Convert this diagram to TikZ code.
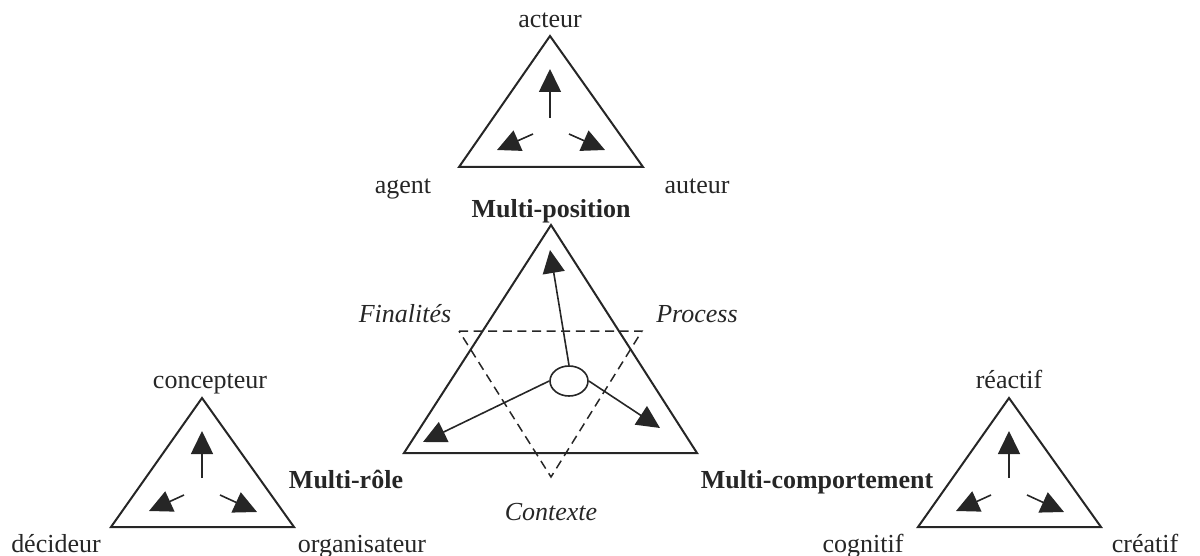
\documentclass[tikz,border=0pt]{standalone}
\usepackage{fontspec}
\setmainfont{Liberation Serif}
\usetikzlibrary{arrows.meta,shapes.geometric}
\definecolor{ink}{RGB}{38,38,38}
\begin{document}
\begin{tikzpicture}[x=0.5pt,y=-0.5pt,
  tri/.style={draw=ink, line width=1pt, line join=miter},
  dsh/.style={draw=ink, line width=0.75pt, dash pattern=on 4.5pt off 2.8pt},
  arr/.style={draw=ink, line width=0.8pt, -{Triangle[length=11.5pt,width=11pt]}},
  lbl/.style={text=ink, anchor=base, inner sep=0pt, font=\fontsize{13}{15}\selectfont},
  blbl/.style={lbl, font=\fontsize{13}{15}\selectfont\bfseries},
  ilbl/.style={lbl, font=\fontsize{13}{15}\selectfont\itshape}]
\useasboundingbox (0,0) rectangle (1200,556);

% ---------- top small triangle ----------
\begin{scope}[shift={(550,36)}]
  \coordinate (ta) at (0,0); \coordinate (tl) at (-91,131); \coordinate (tr) at (93,131);
  \draw[tri] (ta) -- (tl) -- (tr) -- cycle;
  \coordinate (tu0) at (0,82); \coordinate (tu1) at (0,33);
  \coordinate (tl0) at (-17,98); \coordinate (tl1) at (-53,114);
  \coordinate (tr0) at (19,98); \coordinate (tr1) at (55,114);
  \draw[arr] (tu0) -- (tu1);
  \draw[arr] (tl0) -- (tl1);
  \draw[arr] (tr0) -- (tr1);
\end{scope}
\node[lbl] (acteur) at (550,28) {acteur};
\node[lbl] (agent) at (403,193) {agent};
\node[lbl] (auteur) at (697,193) {auteur};
\node[blbl] (mpos) at (551,217) {Multi-position};

% ---------- left small triangle ----------
\begin{scope}[shift={(202,398)}]
  \coordinate (la) at (0,0); \coordinate (ll) at (-91,129); \coordinate (lr) at (92,129);
  \draw[tri] (la) -- (ll) -- (lr) -- cycle;
  \coordinate (lu0) at (0,80); \coordinate (lu1) at (0,33);
  \coordinate (ll0) at (-18,97); \coordinate (ll1) at (-53,113);
  \coordinate (lr0) at (18,97); \coordinate (lr1) at (55,114);
  \draw[arr] (lu0) -- (lu1);
  \draw[arr] (ll0) -- (ll1);
  \draw[arr] (lr0) -- (lr1);
\end{scope}
\node[lbl] (concepteur) at (210,388) {concepteur};
\node[lbl] (decideur) at (56,552) {décideur};
\node[lbl] (organisateur) at (362,552) {organisateur};
\node[blbl] (mrole) at (346,488) {Multi-rôle};

% ---------- right small triangle ----------
\begin{scope}[shift={(1009,398)}]
  \coordinate (ra) at (0,0); \coordinate (rl) at (-91,129); \coordinate (rr) at (92,129);
  \draw[tri] (ra) -- (rl) -- (rr) -- cycle;
  \coordinate (ru0) at (0,80); \coordinate (ru1) at (0,33);
  \coordinate (rl0) at (-18,97); \coordinate (rl1) at (-53,113);
  \coordinate (rr0) at (18,97); \coordinate (rr1) at (55,114);
  \draw[arr] (ru0) -- (ru1);
  \draw[arr] (rl0) -- (rl1);
  \draw[arr] (rr0) -- (rr1);
\end{scope}
\node[lbl] (reactif) at (1009,388) {réactif};
\node[lbl] (cognitif) at (863,552) {cognitif};
\node[lbl] (creatif) at (1145,552) {créatif};
\node[blbl] (mcomp) at (817,488) {Multi-comportement};

% ---------- central triangle ----------
\coordinate (cA) at (551,225); \coordinate (cL) at (404,453); \coordinate (cR) at (697,453);
\draw[tri] (cA) -- (cL) -- (cR) -- cycle;
\coordinate (dL) at (459,331); \coordinate (dR) at (642,331); \coordinate (dB) at (551,477);
\draw[dsh] (dL) -- (dR) -- (dB) -- cycle;
\node[ellipse, draw=ink, fill=white, line width=0.8pt, minimum width=19pt, minimum height=15pt, inner sep=0pt] (c) at (569,381) {};
\coordinate (pU) at (550,250); \coordinate (pL) at (423,442); \coordinate (pR) at (660,428);
\draw[arr] (c.north) -- (pU);
\draw[arr] (c.west) -- (pL);
\draw[arr] (c.east) -- (pR);
\node[ilbl] (fin) at (405,322) {Finalités};
\node[ilbl] (proc) at (697,322) {Process};
\node[ilbl] (ctx) at (551,520) {Contexte};
\end{tikzpicture}
\end{document}
